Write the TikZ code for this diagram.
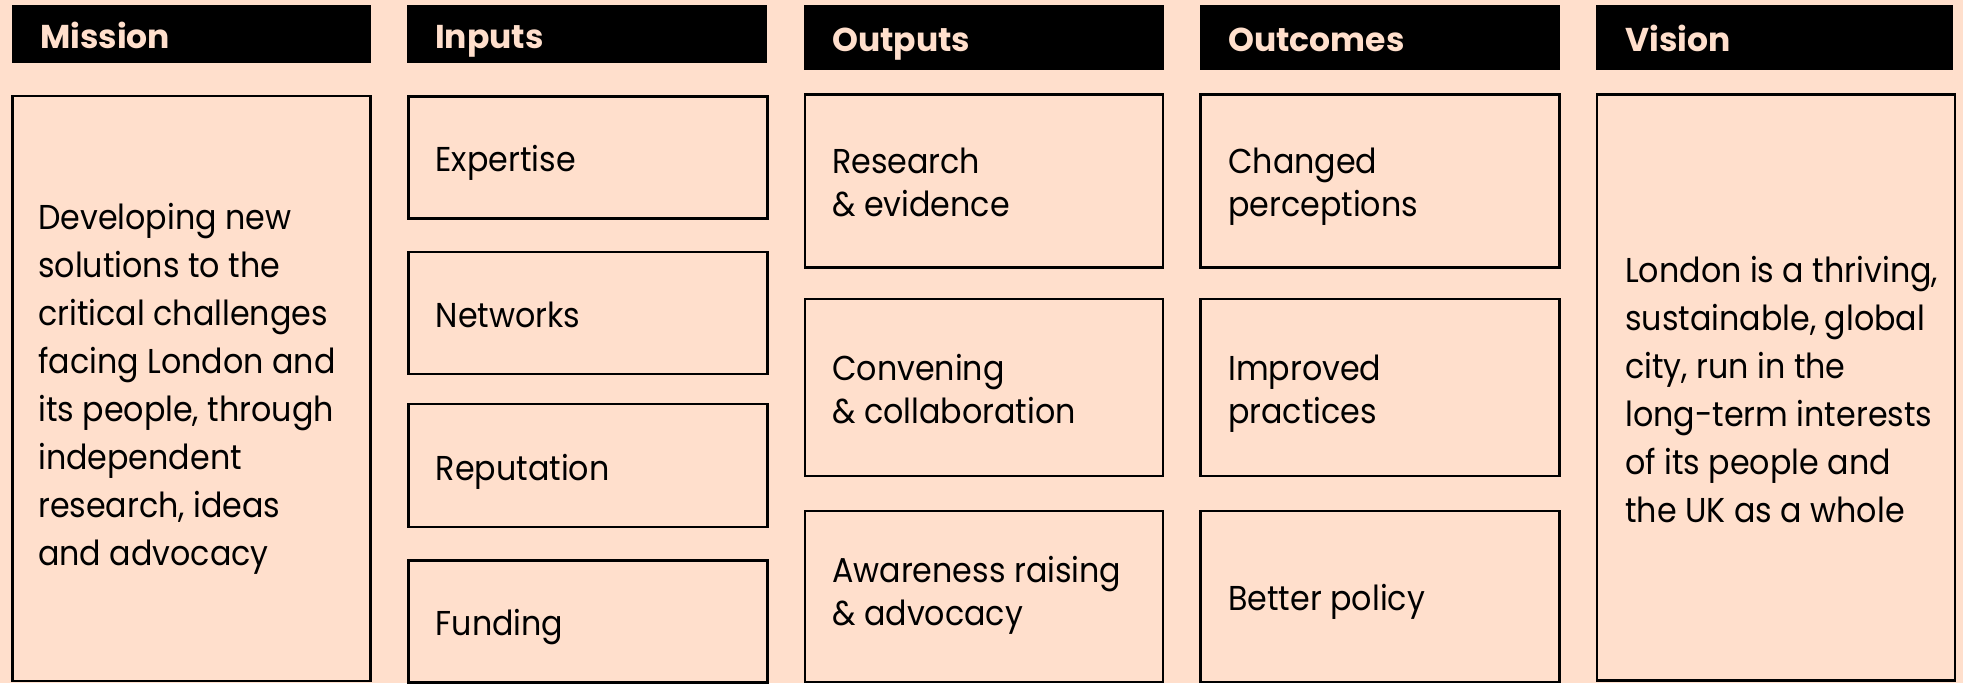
\documentclass[tikz,border=0pt]{standalone}
\usepackage{fontspec}
\setmainfont{Poppins}
\newfontfamily\bodyfont{Poppins}[FakeStretch=0.92]
\definecolor{peach}{RGB}{255,223,204}
\tikzset{
  hdr/.style={fill=black, draw=none, inner sep=0pt, outer sep=0pt},
  hdrtxt/.style={text=peach, inner sep=0pt, anchor=base west, font=\fontsize{33}{40}\selectfont\bfseries},
  boxst/.style={draw=black, line width=2.8pt, fill=none, inner sep=0pt, outer sep=0pt},
  txt/.style={text=black, inner sep=0pt, anchor=north west, align=left, font=\bodyfont\fontsize{34.5}{43}\selectfont},
  bigtxt/.style={text=black, inner sep=0pt, anchor=north west, align=left, font=\bodyfont\fontsize{34.5}{48}\selectfont},
}
\begin{document}
\begin{tikzpicture}[x=1pt,y=-1pt]
\fill[peach] (0,0) rectangle (1963,683);
\useasboundingbox (0,0) rectangle (1963,683);
% headers
\node[hdr, minimum width=359, minimum height=58] (hM) at (191.5,34) {};
\node[hdr, minimum width=360, minimum height=58] (hI) at (587,34) {};
\node[hdr, minimum width=360, minimum height=65] (hO) at (984,37.5) {};
\node[hdr, minimum width=360, minimum height=65] (hC) at (1380,37.5) {};
\node[hdr, minimum width=357, minimum height=65] (hV) at (1774.5,37.5) {};
\node[hdrtxt] (thM) at (40,48) {Mission};
\node[hdrtxt] (thI) at (435,48) {Inputs};
\node[hdrtxt] (thO) at (832,51) {Outputs};
\node[hdrtxt] (thC) at (1228,51) {Outcomes};
\node[hdrtxt] (thV) at (1625,51) {Vision};
% boxes
\node[boxst, minimum width=358, minimum height=585] (bM) at (191.5,388.5) {};
\node[boxst, minimum width=359, minimum height=122] (bI1) at (588,157.5) {};
\node[boxst, minimum width=359, minimum height=122] (bI2) at (588,313) {};
\node[boxst, minimum width=359, minimum height=123] (bI3) at (588,465.5) {};
\node[boxst, minimum width=359, minimum height=122] (bI4) at (588,621.5) {};
\node[boxst, minimum width=358, minimum height=173] (bO1) at (984,181) {};
\node[boxst, minimum width=358, minimum height=177] (bO2) at (984,387.5) {};
\node[boxst, minimum width=358, minimum height=171] (bO3) at (984,596.5) {};
\node[boxst, minimum width=359, minimum height=173] (bC1) at (1380,181) {};
\node[boxst, minimum width=359, minimum height=177] (bC2) at (1380,387.5) {};
\node[boxst, minimum width=359, minimum height=171] (bC3) at (1380,596.5) {};
\node[boxst, minimum width=358, minimum height=586] (bV) at (1776,387.5) {};
% texts
\node[bigtxt] (tM) at (38,195.4) {\strut Developing new\\solutions to the\\critical challenges\\facing London and\\its people, through\\independent\\research, ideas\\and advocacy};
\node[txt] (tI1) at (435.5,140.9) {\strut Expertise};
\node[txt] (tI2) at (435.5,296.9) {\strut Networks};
\node[txt] (tI3) at (435.5,449.9) {\strut Reputation};
\node[txt] (tI4) at (435.5,604.9) {\strut Funding};
\node[txt] (tO1) at (832,142.9) {\strut Research\\\& evidence};
\node[txt] (tO2) at (832,350.4) {\strut Convening\\\& collaboration};
\node[txt] (tO3) at (832,552.4) {\strut Awareness raising\\\& advocacy};
\node[txt] (tC1) at (1228,142.9) {\strut Changed\\perceptions};
\node[txt] (tC2) at (1228,350.4) {\strut Improved\\practices};
\node[txt] (tC3) at (1228,579.9) {\strut Better policy};
\node[bigtxt] (tV) at (1625,248.4) {\strut London is a thriving,\\sustainable, global\\city, run in the\\long-term interests\\of its people and\\the UK as a whole};
\end{tikzpicture}
\end{document}
